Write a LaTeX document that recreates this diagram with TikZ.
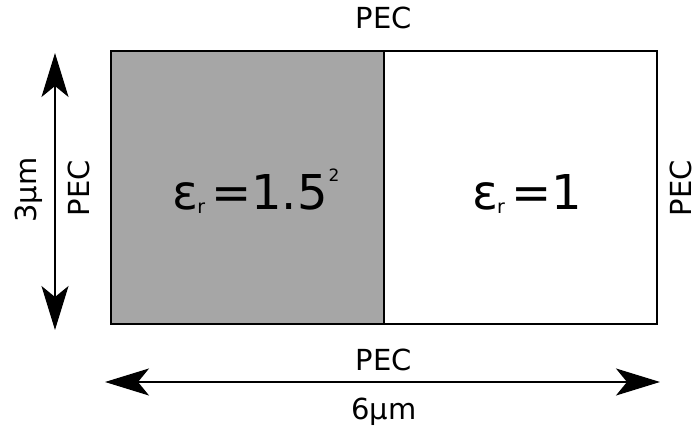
\documentclass[tikz,border=0pt]{standalone}
\usepackage{fontspec}
\setmainfont{DejaVu Sans}
\usetikzlibrary{arrows.meta,positioning}
\definecolor{diel_gray}{RGB}{166,166,166}

\begin{document}
\begin{tikzpicture}[x=1pt, y=-1pt,
    cell/.style={draw, line width=2pt, minimum width=273pt, minimum height=273pt, inner sep=0pt},
    eps/.style={font=\fontsize{48}{52}\selectfont, inner sep=0pt, anchor=base},
    lbl/.style={font=\fontsize{29}{33}\selectfont, inner sep=0pt, anchor=base},
    dim/.style={line width=2pt,
                {Stealth[length=44pt,width=27pt,inset=11pt]}-{Stealth[length=44pt,width=27pt,inset=11pt]}}]
  \useasboundingbox (0,0) rectangle (697,430);
  % the two regions of the cavity
  \node[cell, fill=diel_gray] (diel) at (247.5,187.5) {};
  \node[cell] (vac) at (520.5,187.5) {};
  \node[eps] (epsdiel) at (256,210)
    {ε\hspace{-1pt}\raisebox{-4pt}{\fontsize{19}{19}\selectfont r}\hspace{6pt}=1.5\hspace{1pt}\raisebox{28pt}{\fontsize{17}{17}\selectfont 2}};
  \node[eps] (epsvac) at (527,210)
    {ε\hspace{-1pt}\raisebox{-4pt}{\fontsize{19}{19}\selectfont r}\hspace{6pt}=1};
  % boundary walls
  \node[lbl] (pectop) at (384,29) {PEC};
  \node[lbl] (pecbot) at (384,371) {PEC};
  \node[lbl, rotate=90] (pecleft) at (89,188) {PEC};
  \node[lbl, rotate=90] (pecright) at (691,188) {PEC};
  % dimensions
  \coordinate (htop) at (55,53);
  \coordinate (hbot) at (55,330);
  \draw[dim] (htop) -- (hbot);
  \node[lbl, rotate=90] (height) at (36,190) {3µm};
  \coordinate (wleft) at (105,382);
  \coordinate (wright) at (660,382);
  \draw[dim] (wleft) -- (wright);
  \node[lbl] (width) at (384,420) {6µm};
\end{tikzpicture}
\end{document}
